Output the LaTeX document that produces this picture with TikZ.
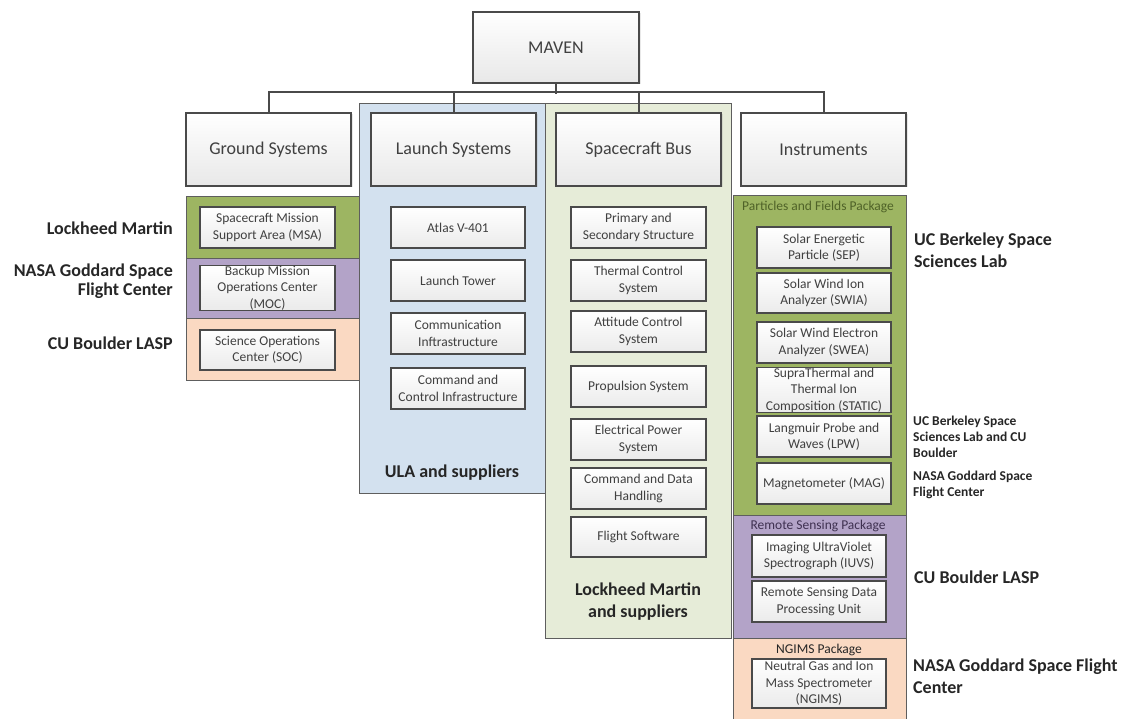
\documentclass[tikz,border=0pt]{standalone}
\usepackage{fontspec}
\setmainfont{Carlito}
\usetikzlibrary{shadows}
\definecolor{edge}{HTML}{4A4A4A}
\definecolor{panedge}{HTML}{5E5E5E}
\definecolor{txt}{HTML}{404040}
\definecolor{lbl}{HTML}{262626}
\definecolor{olivefill}{HTML}{9DB562}
\definecolor{lilac}{HTML}{B3A3C8}
\definecolor{peach}{HTML}{FAD9C2}
\definecolor{paleblue}{HTML}{D3E1EF}
\definecolor{palegreen}{HTML}{E6ECD8}
\definecolor{pfgreen}{HTML}{4F6228}
\definecolor{rspurple}{HTML}{3F3151}
\begin{document}
\begin{tikzpicture}[x=1pt,y=-1pt,
  panel/.style={draw=panedge, line width=0.9pt},
  bus/.style={draw=edge, line width=2pt},
  topbox/.style={draw=edge, line width=1.1pt, top color=white, bottom color=black!9,
    drop shadow={opacity=0.18, shadow xshift=1.5pt, shadow yshift=-1.5pt},
    minimum width=165pt, minimum height=73pt, inner sep=0pt, text=txt,
    font=\fontsize{18}{21}\selectfont},
  ibox/.style={draw=edge, line width=1.1pt, top color=white, bottom color=black!8,
    drop shadow={opacity=0.18, shadow xshift=1.2pt, shadow yshift=-1.2pt},
    minimum width=134pt, minimum height=41pt, inner sep=0pt, align=center, text=txt,
    font=\fontsize{13.5}{16.5}\selectfont},
  biglbl/.style={inner sep=0pt, text=lbl, font=\bfseries\fontsize{18}{19}\selectfont},
  rbiglbl/.style={inner sep=0pt, text=lbl, align=left, anchor=west, font=\bfseries\fontsize{18}{22}\selectfont},
  smlbl/.style={inner sep=0pt, text=lbl, align=left, anchor=west, font=\bfseries\fontsize{13.5}{16}\selectfont},
  pkglbl/.style={inner sep=0pt, font=\fontsize{13.5}{16}\selectfont}
]
\useasboundingbox (0,0) rectangle (1125,719);

% supplier panels behind the columns
\draw[panel, fill=paleblue] (359,103) rectangle (545,493);
\draw[panel, fill=palegreen] (545,103) rectangle (731,638);
\draw[panel, fill=olivefill] (186,196) rectangle (359,258);
\draw[panel, fill=lilac] (186,258) rectangle (359,318);
\draw[panel, fill=peach] (186,318) rectangle (359,380);
\draw[panel, fill=olivefill] (733,195) rectangle (906,515);
\draw[panel, fill=lilac] (733,515) rectangle (906,638);
\draw[panel, fill=peach] (733,638) rectangle (906,722);

% top of the tree
\node[topbox, minimum width=166pt, minimum height=71pt] (maven) at (556,47.5) {MAVEN};
\node[topbox] (ground) at (268.5,149.5) {Ground Systems};
\node[topbox] (launch) at (453.5,149.5) {Launch Systems};
\node[topbox] (bus) at (638.5,149.5) {Spacecraft Bus};
\node[topbox] (inst) at (823.5,149.5) {Instruments};

\draw[bus] (maven.south) -- ++(0,10);
\draw[bus] (ground.north) -- ++(0,-20) -| (inst.north);
\draw[bus] (launch.north) -- ++(0,-20);
\draw[bus] (bus.north) -- ++(0,-20);

% ground systems
\node[ibox, minimum width=135pt] (msa) at (267.5,227.5) {Spacecraft Mission\\Support Area (MSA)};
\node[ibox, minimum width=135pt, minimum height=40pt] (moc) at (267.5,288) {Backup Mission\\Operations Center\\(MOC)};
\node[ibox, minimum width=135pt, minimum height=40pt] (soc) at (267.5,350) {Science Operations\\Center (SOC)};
\node[biglbl, anchor=east] (lgLM) at (173,228) {Lockheed Martin};
\node[biglbl, anchor=east, align=right] (lgGSFC) at (173,281) {NASA Goddard Space\\Flight Center};
\node[biglbl, anchor=east] (lgLASP) at (173,343) {CU Boulder LASP};

% launch systems
\node[ibox] (atlas) at (458,227.5) {Atlas V-401};
\node[ibox] (tower) at (458,280.5) {Launch Tower};
\node[ibox] (comm) at (458,333.5) {Communication\\Inftrastructure};
\node[ibox] (cmdctl) at (458,388.5) {Command and\\Control Infrastructure};
\node[biglbl] (ula) at (452,473) {ULA and suppliers};

% spacecraft bus
\node[ibox, minimum width=135pt] (struct) at (638.5,227.5) {Primary and\\Secondary Structure};
\node[ibox, minimum width=135pt] (thermal) at (638.5,280.5) {Thermal Control\\System};
\node[ibox, minimum width=135pt] (att) at (638.5,331.5) {Attitude Control\\System};
\node[ibox, minimum width=135pt] (prop) at (638.5,386.5) {Propulsion System};
\node[ibox, minimum width=135pt] (eps) at (638.5,439.5) {Electrical Power\\System};
\node[ibox, minimum width=135pt] (cdh) at (638.5,488.5) {Command and Data\\Handling};
\node[ibox, minimum width=135pt, minimum height=40pt] (fsw) at (638.5,537) {Flight Software};
\node[biglbl, align=center, font=\bfseries\fontsize{18}{21.5}\selectfont] (lmsup) at (638,601.5) {Lockheed Martin\\and suppliers};

% instruments
\node[pkglbl, text=pfgreen] (pf) at (818,207) {Particles and Fields Package};
\node[ibox] (sep) at (824,247.5) {Solar Energetic\\Particle (SEP)};
\node[ibox, minimum height=40pt] (swia) at (824,293) {Solar Wind Ion\\Analyzer (SWIA)};
\node[ibox] (swea) at (824,342.5) {Solar Wind Electron\\Analyzer (SWEA)};
\node[ibox, minimum height=44pt] (static) at (824,390) {SupraThermal and\\Thermal Ion\\Composition (STATIC)};
\node[ibox] (lpw) at (824,436.5) {Langmuir Probe and\\Waves (LPW)};
\node[ibox] (mag) at (824,483.5) {Magnetometer (MAG)};

\node[pkglbl, text=rspurple] (rs) at (818,526) {Remote Sensing Package};
\node[ibox, minimum height=42pt] (iuvs) at (819,556) {Imaging UltraViolet\\Spectrograph (IUVS)};
\node[ibox] (rsdpu) at (819,601.5) {Remote Sensing Data\\Processing Unit};

\node[pkglbl, text=lbl] (ngp) at (819,650) {NGIMS Package};
\node[ibox, minimum height=49pt] (ngims) at (819,683.5) {Neutral Gas and Ion\\Mass Spectrometer\\(NGIMS)};

% institutions on the right
\node[rbiglbl] (rUCB) at (914,250) {UC Berkeley Space\\Sciences Lab};
\node[smlbl] (rUCBCU) at (913,437) {UC Berkeley Space\\Sciences Lab and CU\\Boulder};
\node[smlbl] (rGSFC) at (913,485) {NASA Goddard Space\\Flight Center};
\node[rbiglbl] (rLASP) at (914,577) {CU Boulder LASP};
\node[rbiglbl] (rGSFC2) at (913,676) {NASA Goddard Space Flight\\Center};
\end{tikzpicture}
\end{document}
